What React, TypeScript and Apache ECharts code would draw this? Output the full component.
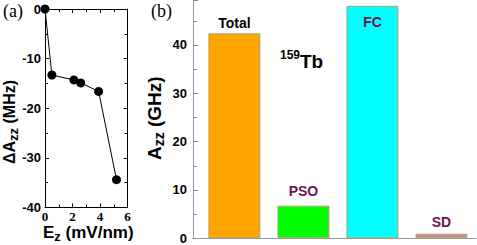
import React, { useEffect, useRef } from "react";
import * as echarts from "echarts";

// Panel (a): ΔAzz vs Ez
const fieldEz = [0, 0.5, 2.1, 2.6, 3.9, 5.2];
const deltaAzz = [0, -13.3, -14.3, -14.9, -16.6, -34.4];

// Panel (b): hyperfine contributions
const contribNames = ["Total", "PSO", "FC", "SD"];
const contribValues = [42.4, 6.75, 48.1, 0.95];
const contribColors = ["#FFA500", "#00FF00", "#00FFFF", "#BC8F8F"];
const contribLabelColors = ["#000000", "#6e1450", "#6e1450", "#6e1450"];
const contribLabelPos = ["top", "top", "insideTop", "top"];
const contribLabelDist = [3, 8, 9, 5];

const SANS = "Liberation Sans, Arial, sans-serif";
const SERIF = "Liberation Serif, Times New Roman, serif";

export default function App() {
  const ref = useRef<HTMLDivElement>(null);
  useEffect(() => {
    if (!ref.current) return;
    const chart = echarts.init(ref.current, null, { renderer: "svg" });
    const blackLine = { show: true, onZero: false, lineStyle: { color: "#000", width: 1 } };
    const grayLine = { show: true, onZero: false, lineStyle: { color: "#999", width: 1 } };
    const option: any = {
      animation: false,
      backgroundColor: "#fff",
      grid: [
        { left: 45, right: 349.5, top: 9, bottom: 37.5 },
        { left: 193, right: 1, top: 0, bottom: 6.7 },
      ],
      xAxis: [
        {
          gridIndex: 0, type: "value", min: 0, max: 6, interval: 2, position: "bottom",
          axisLine: blackLine,
          axisTick: { show: true, inside: true, length: 4, lineStyle: { color: "#000" } },
          minorTick: { show: true, splitNumber: 2, length: 3, lineStyle: { color: "#000" } },
          axisLabel: { fontFamily: SERIF, fontWeight: "bold", fontSize: 13, color: "#000", margin: 2 },
          splitLine: { show: false },
        },
        {
          gridIndex: 0, type: "value", min: 0, max: 6, interval: 2, position: "top",
          axisLine: blackLine,
          axisTick: { show: true, inside: true, length: 4, lineStyle: { color: "#000" } },
          minorTick: { show: true, splitNumber: 2, length: 3, lineStyle: { color: "#000" } },
          axisLabel: { show: false },
          splitLine: { show: false },
        },
        {
          gridIndex: 1, type: "value", min: 0.4, max: 4.5, position: "bottom",
          axisLine: grayLine,
          axisTick: { show: false },
          axisLabel: { show: false },
          splitLine: { show: false },
        },
      ],
      yAxis: [
        {
          gridIndex: 0, type: "value", min: -40, max: 0, interval: 10, position: "left",
          axisLine: blackLine,
          axisTick: { show: true, inside: true, length: 4, lineStyle: { color: "#000" } },
          minorTick: { show: true, splitNumber: 2, length: 3, lineStyle: { color: "#000" } },
          axisLabel: { fontFamily: SANS, fontWeight: "bold", fontSize: 13, color: "#000", margin: 4 },
          splitLine: { show: false },
        },
        {
          gridIndex: 0, type: "value", min: -40, max: 0, interval: 10, position: "right",
          axisLine: blackLine,
          axisTick: { show: true, inside: true, length: 4, lineStyle: { color: "#000" } },
          minorTick: { show: true, splitNumber: 2, length: 3, lineStyle: { color: "#000" } },
          axisLabel: { show: false },
          splitLine: { show: false },
        },
        {
          gridIndex: 1, type: "value", min: 0, max: 49.3, interval: 10, position: "left",
          axisLine: grayLine,
          axisTick: { show: true, inside: true, length: 5, lineStyle: { color: "#888" } },
          minorTick: { show: true, splitNumber: 2, length: 4, lineStyle: { color: "#888" } },
          axisLabel: {
            fontFamily: SANS, fontWeight: "bold", fontSize: 13, color: "#000", margin: 6,
            showMaxLabel: false,
            formatter: (v: number) => (v % 10 === 0 ? String(v) : ""),
          },
          splitLine: { show: false },
        },
      ],
      series: [
        {
          type: "line",
          xAxisIndex: 0,
          yAxisIndex: 0,
          data: fieldEz.map((x, i) => [x, deltaAzz[i]]),
          symbol: "circle",
          symbolSize: 9,
          lineStyle: { color: "#000", width: 1 },
          itemStyle: { color: "#000" },
          clip: false,
        },
        {
          type: "bar",
          xAxisIndex: 2,
          yAxisIndex: 2,
          barWidth: 52,
          data: contribNames.map((name, i) => ({
            name,
            value: [i + 1, contribValues[i]],
            itemStyle: { color: contribColors[i], borderColor: "#b8a070", borderWidth: 1 },
            label: {
              show: true,
              position: contribLabelPos[i],
              distance: contribLabelDist[i],
              formatter: name,
              color: contribLabelColors[i],
              fontFamily: SANS,
              fontWeight: "bold",
              fontSize: 14,
            },
          })),
        },
      ],
      graphic: [
        {
          type: "text", left: 3, top: 2,
          style: { text: "(a)", fontFamily: SERIF, fontSize: 18, fill: "#000" },
        },
        {
          type: "text", left: 151, top: 2,
          style: { text: "(b)", fontFamily: SERIF, fontSize: 18, fill: "#000" },
        },
        {
          type: "text", x: 9, y: 164, rotation: Math.PI / 2,
          style: {
            text: "{m|ΔA}{s|zz}{m| (MHz)}",
            align: "left", verticalAlign: "middle", fill: "#000",
            rich: {
              m: { fontFamily: SANS, fontWeight: "bold", fontSize: 16, lineHeight: 22, verticalAlign: "middle" },
              s: { fontFamily: SANS, fontWeight: "bold", fontSize: 13, lineHeight: 12, verticalAlign: "bottom" },
            },
          },
        },
        {
          type: "text", x: 43, y: 232,
          style: {
            text: "{m|E}{s|z}{m| (mV/nm)}",
            align: "left", verticalAlign: "middle", fill: "#000",
            rich: {
              m: { fontFamily: SANS, fontWeight: "bold", fontSize: 17, lineHeight: 22, verticalAlign: "middle" },
              s: { fontFamily: SANS, fontWeight: "bold", fontSize: 13, lineHeight: 12, verticalAlign: "bottom" },
            },
          },
        },
        {
          type: "text", x: 154, y: 160, rotation: Math.PI / 2,
          style: {
            text: "{m|A}{s|zz}{m| (GHz)}",
            align: "left", verticalAlign: "middle", fill: "#000",
            rich: {
              m: { fontFamily: SANS, fontWeight: "bold", fontSize: 19, lineHeight: 24, verticalAlign: "middle" },
              s: { fontFamily: SANS, fontWeight: "bold", fontSize: 14, lineHeight: 13, verticalAlign: "bottom" },
            },
          },
        },
        {
          type: "text", x: 280, y: 61,
          style: {
            text: "{p|159}{m|Tb}",
            align: "left", verticalAlign: "middle", fill: "#000",
            rich: {
              m: { fontFamily: SANS, fontWeight: "bold", fontSize: 19, lineHeight: 24, verticalAlign: "middle" },
              p: { fontFamily: SANS, fontWeight: "bold", fontSize: 12, lineHeight: 12, verticalAlign: "top" },
            },
          },
        },
      ],
    };
    chart.setOption(option);
    return () => chart.dispose();
  }, []);
  return <div ref={ref} style={{ width: 477, height: 245, position: "absolute", left: 0, top: 0 }} />;
}
